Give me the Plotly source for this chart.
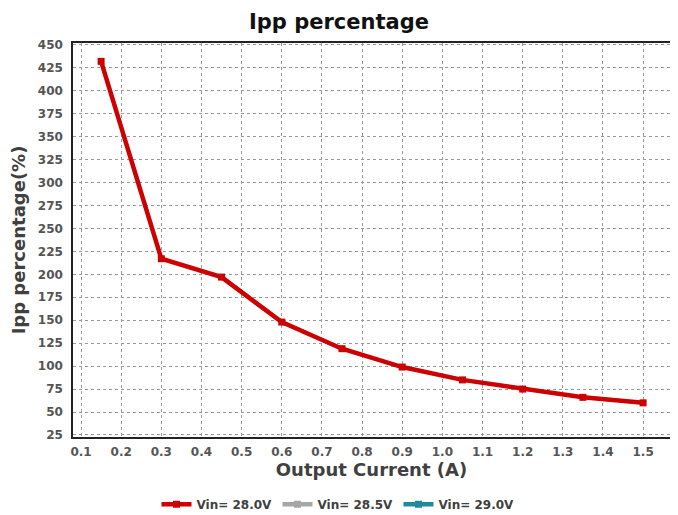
import plotly.graph_objects as go

output_current = [0.15, 0.3, 0.45, 0.6, 0.75, 0.9, 1.05, 1.2, 1.35, 1.5]
vin_280 = [432, 217, 197, 148, 119, 99, 85, 75, 66, 60]
vin_285 = [None] * len(output_current)
vin_290 = [None] * len(output_current)
series_names = ["Vin= 28.0V", "Vin= 28.5V", "Vin= 29.0V"]
series_colors = ["#CC0000", "#A6A6A6", "#1F8A99"]
x_ticks = [0.1, 0.2, 0.3, 0.4, 0.5, 0.6, 0.7, 0.8, 0.9, 1.0, 1.1, 1.2, 1.3, 1.4, 1.5]
y_ticks = list(range(25, 451, 25))

fig = go.Figure()
for name, vals, col in zip(series_names, [vin_280, vin_285, vin_290], series_colors):
    fig.add_trace(go.Scatter(
        x=output_current, y=vals, name=name, mode="lines+markers",
        line=dict(color=col, width=4.5),
        marker=dict(symbol="square", size=7, color=col),
    ))

font_fam = "DejaVu Sans, Arial, sans-serif"
W, H = 670, 507
fig.update_layout(
    width=W, height=H,
    margin=dict(l=65, r=8, t=35, b=78, autoexpand=False),
    paper_bgcolor="white", plot_bgcolor="white",
    title=dict(text="<b>Ipp percentage</b>", x=(339 - 8) / W, xanchor="center",
               y=1 - 14 / H, yref="container", yanchor="middle",
               font=dict(family=font_fam, size=21, color="#111111")),
    font=dict(family=font_fam),
    showlegend=True,
    legend=dict(orientation="h", x=(338 - 8 - 65) / (W - 65 - 8), xanchor="center",
                y=-0.134, yanchor="top", entrywidth=76, entrywidthmode="pixels",
                font=dict(family=font_fam, size=12, color="#404040", weight="bold"),
                itemwidth=30, tracegroupgap=0, traceorder="normal"),
    xaxis=dict(range=[0.08, 1.567], tickvals=x_ticks, ticktext=[f"{v:.1f}" for v in x_ticks],
               showgrid=True, gridcolor="#999999", griddash="dot", gridwidth=1,
               showline=True, linecolor="#222222", linewidth=1.5, mirror=True,
               ticks="", zeroline=False, automargin=False, ticklabelstandoff=3,
               tickfont=dict(family=font_fam, size=12, color="#555555", weight="bold"),
               title=dict(text="<b>Output Current (A)</b>", standoff=5,
                          font=dict(family=font_fam, size=18, color="#404040"))),
    yaxis=dict(range=[22.8, 452], tickvals=y_ticks,
               showgrid=True, gridcolor="#999999", griddash="dot", gridwidth=1,
               showline=True, linecolor="#222222", linewidth=1.5, mirror=True,
               ticks="", zeroline=False, automargin=False, ticklabelstandoff=6,
               tickfont=dict(family=font_fam, size=12, color="#555555", weight="bold"),
               title=dict(text="<b>Ipp percentage(%)</b>",
                          font=dict(family=font_fam, size=18, color="#404040"))),
)
fig.write_html("out.html")
